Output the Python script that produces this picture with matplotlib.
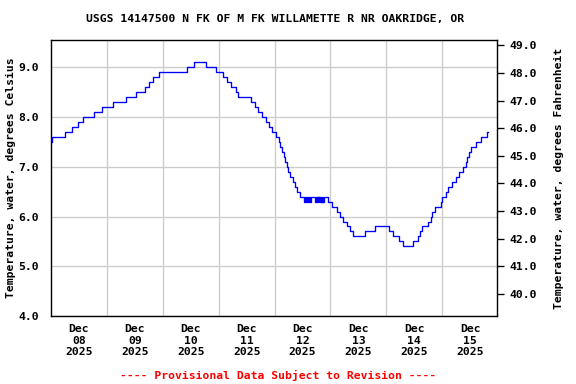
#!/usr/bin/env python3
import pandas as pd
import numpy as np
import matplotlib
matplotlib.use("Agg")
import matplotlib.pyplot as plt

# water temperature, deg C -- times where the 0.1 step reading changes
change_times = [
    "2025-12-08 00:00", "2025-12-08 00:30", "2025-12-08 06:00", "2025-12-08 09:00",
    "2025-12-08 11:30", "2025-12-08 13:45", "2025-12-08 18:30", "2025-12-08 22:00",
    "2025-12-09 02:30", "2025-12-09 08:00", "2025-12-09 12:30", "2025-12-09 16:15",
    "2025-12-09 18:00", "2025-12-09 19:45", "2025-12-09 22:15", "2025-12-10 10:15",
    "2025-12-10 13:15", "2025-12-10 18:30", "2025-12-10 22:45", "2025-12-11 01:45",
    "2025-12-11 03:30", "2025-12-11 05:30", "2025-12-11 07:15", "2025-12-11 08:30",
    "2025-12-11 14:00", "2025-12-11 15:30", "2025-12-11 17:00", "2025-12-11 18:30",
    "2025-12-11 20:15", "2025-12-11 21:30", "2025-12-11 22:45", "2025-12-12 00:30",
    "2025-12-12 01:45", "2025-12-12 02:30", "2025-12-12 03:15", "2025-12-12 04:00",
    "2025-12-12 04:30", "2025-12-12 05:15", "2025-12-12 05:45", "2025-12-12 06:45",
    "2025-12-12 07:45", "2025-12-12 08:45", "2025-12-12 09:45", "2025-12-12 10:45",
    "2025-12-12 12:45", "2025-12-12 13:00", "2025-12-12 13:30", "2025-12-12 13:45",
    "2025-12-12 14:30", "2025-12-12 14:45", "2025-12-12 15:15", "2025-12-12 15:30",
    "2025-12-12 17:30", "2025-12-12 17:45", "2025-12-12 18:00", "2025-12-12 18:15",
    "2025-12-12 18:30", "2025-12-12 18:45", "2025-12-12 19:00", "2025-12-12 19:15",
    "2025-12-12 19:30", "2025-12-12 19:45", "2025-12-12 20:00", "2025-12-12 20:15",
    "2025-12-12 20:30", "2025-12-12 20:45", "2025-12-12 21:00", "2025-12-12 21:15",
    "2025-12-12 22:45", "2025-12-13 00:30", "2025-12-13 03:00", "2025-12-13 04:00",
    "2025-12-13 05:15", "2025-12-13 07:00", "2025-12-13 08:15", "2025-12-13 09:30",
    "2025-12-13 15:00", "2025-12-13 19:15", "2025-12-14 01:00", "2025-12-14 03:00",
    "2025-12-14 05:15", "2025-12-14 07:00", "2025-12-14 11:30", "2025-12-14 13:45",
    "2025-12-14 14:30", "2025-12-14 15:30", "2025-12-14 18:00", "2025-12-14 19:00",
    "2025-12-14 19:45", "2025-12-14 21:00", "2025-12-14 23:15", "2025-12-15 00:00",
    "2025-12-15 01:45", "2025-12-15 02:30", "2025-12-15 04:15", "2025-12-15 06:00",
    "2025-12-15 07:15", "2025-12-15 09:00", "2025-12-15 10:00", "2025-12-15 10:45",
    "2025-12-15 11:30", "2025-12-15 12:30", "2025-12-15 14:30", "2025-12-15 16:45",
    "2025-12-15 19:15",
]
temps_c = [
    7.5, 7.6, 7.7, 7.8,
    7.9, 8.0, 8.1, 8.2,
    8.3, 8.4, 8.5, 8.6,
    8.7, 8.8, 8.9, 9.0,
    9.1, 9.0, 8.9, 8.8,
    8.7, 8.6, 8.5, 8.4,
    8.3, 8.2, 8.1, 8.0,
    7.9, 7.8, 7.7, 7.6,
    7.5, 7.4, 7.3, 7.2,
    7.1, 7.0, 6.9, 6.8,
    6.7, 6.6, 6.5, 6.4,
    6.3, 6.4, 6.3, 6.4,
    6.3, 6.4, 6.3, 6.4,
    6.3, 6.4, 6.3, 6.4,
    6.3, 6.4, 6.3, 6.4,
    6.3, 6.4, 6.3, 6.4,
    6.3, 6.4, 6.3, 6.4,
    6.3, 6.2, 6.1, 6.0,
    5.9, 5.8, 5.7, 5.6,
    5.7, 5.8, 5.7, 5.6,
    5.5, 5.4, 5.5, 5.6,
    5.7, 5.8, 5.9, 6.0,
    6.1, 6.2, 6.3, 6.4,
    6.5, 6.6, 6.7, 6.8,
    6.9, 7.0, 7.1, 7.2,
    7.3, 7.4, 7.5, 7.6,
    7.7,
]
last_time = "2025-12-15 19:45"

day_labels = ["Dec\n08\n2025", "Dec\n09\n2025", "Dec\n10\n2025", "Dec\n11\n2025",
              "Dec\n12\n2025", "Dec\n13\n2025", "Dec\n14\n2025", "Dec\n15\n2025"]
title = "USGS 14147500 N FK OF M FK WILLAMETTE R NR OAKRIDGE, OR"

FONT = "DejaVu Sans Mono"
FS = 8.5

t = pd.to_datetime(change_times + [last_time])
v = temps_c + [temps_c[-1]]

fig = plt.figure(figsize=(6, 4), dpi=96)
ax = fig.add_axes([51/576, 68/384, 446/576, 276/384])

ax.plot(t, v, drawstyle="steps-post", color="#0000ff", lw=1.0, zorder=3)

ax.set_xlim(pd.Timestamp("2025-12-08 00:00"), pd.Timestamp("2025-12-15 23:30"))
ax.set_ylim(4.0, 9.55)

# gridlines at midnight, date labels at noon
midnights = pd.date_range("2025-12-09", "2025-12-15", freq="D")
noons = pd.date_range("2025-12-08 12:00", periods=len(day_labels), freq="D")
ax.set_xticks(midnights)
ax.set_xticklabels([])
ax.set_xticks(noons, minor=True)
ax.set_xticklabels(day_labels, minor=True, fontfamily=FONT, fontweight="bold", fontsize=FS)
ax.tick_params(axis="x", which="both", length=0, pad=6)

yt = [4.0, 5.0, 6.0, 7.0, 8.0, 9.0]
ax.set_yticks(yt)
ax.set_yticklabels([f"{y:.1f}" for y in yt], fontfamily=FONT, fontweight="bold", fontsize=FS)
ax.tick_params(axis="y", length=0, pad=9)

ax.grid(True, which="major", color="#cccccc", lw=1.0, zorder=0)
for s in ax.spines.values():
    s.set_linewidth(1.0)

ax.set_ylabel("Temperature, water, degrees Celsius", fontfamily=FONT, fontweight="bold",
              fontsize=FS, labelpad=2)

# fahrenheit axis on the right
ax2 = ax.twinx()
lo, hi = ax.get_ylim()
ax2.set_ylim(lo*1.8 + 32, hi*1.8 + 32)
ft = np.arange(40, 50)
ax2.set_yticks(ft)
ax2.set_yticklabels([f"{f:.1f}" for f in ft], fontfamily=FONT, fontweight="bold", fontsize=FS)
ax2.tick_params(axis="y", direction="out", length=5, width=1, pad=4)
ax2.set_ylabel("Temperature, water, degrees Fahrenheit", fontfamily=FONT, fontweight="bold",
               fontsize=FS, labelpad=13)

fig.text(275/576, 1 - 19/384, title, ha="center", va="center", fontfamily=FONT,
         fontweight="bold", fontsize=FS)
fig.text(278/576, 1 - 375/384, "---- Provisional Data Subject to Revision ----", ha="center",
         va="center", color="#ff0000", fontfamily=FONT, fontweight="bold", fontsize=FS)

fig.savefig("out.png", dpi=96)
